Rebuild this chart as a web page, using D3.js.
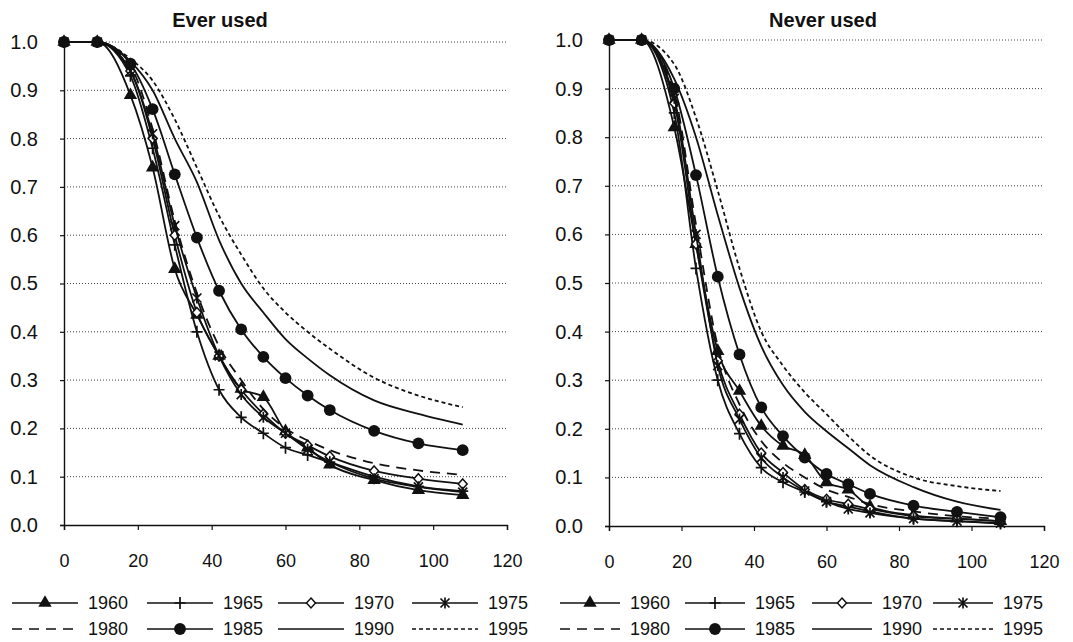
<!DOCTYPE html>
<html>
<head>
<meta charset="utf-8">
<script src="https://cdn.jsdelivr.net/npm/d3@7"></script>
<style>
  body { margin: 0; background: #fff; }
  svg { display: block; font-family: Arial, "Liberation Sans", sans-serif; }
</style>
</head>
<body>
<div id="chart"></div>
<script>
// months since first birth (x values shared by every series)
const months = [0, 9, 18, 24, 30, 36, 42, 48, 54, 60, 66, 72, 84, 96, 108];
const cohorts = ["1960", "1965", "1970", "1975", "1980", "1985", "1990", "1995"];
const xTicks = [0, 20, 40, 60, 80, 100, 120];
const yTicks = [0, 0.1, 0.2, 0.3, 0.4, 0.5, 0.6, 0.7, 0.8, 0.9, 1.0];

// "Ever used" panel
const ever1960 = [1, 1, 0.89, 0.74, 0.53, 0.435, 0.35, 0.282, 0.265, 0.194, 0.16, 0.125, 0.093, 0.072, 0.062];
const ever1965 = [1, 1, 0.93, 0.78, 0.58, 0.40, 0.28, 0.223, 0.19, 0.16, 0.145, 0.13, 0.10, 0.08, 0.07];
const ever1970 = [1, 1, 0.94, 0.80, 0.60, 0.44, 0.35, 0.28, 0.23, 0.19, 0.165, 0.142, 0.112, 0.096, 0.085];
const ever1975 = [1, 1, 0.94, 0.81, 0.62, 0.47, 0.35, 0.27, 0.223, 0.19, 0.157, 0.131, 0.096, 0.079, 0.068];
const ever1980 = [1, 1, 0.95, 0.82, 0.63, 0.48, 0.37, 0.30, 0.24, 0.20, 0.175, 0.155, 0.128, 0.113, 0.104];
const ever1985 = [1, 1, 0.955, 0.861, 0.726, 0.595, 0.485, 0.405, 0.348, 0.304, 0.268, 0.238, 0.195, 0.169, 0.155];
const ever1990 = [1, 1, 0.96, 0.90, 0.80, 0.71, 0.59, 0.50, 0.44, 0.385, 0.345, 0.31, 0.258, 0.23, 0.208];
const ever1995 = [1, 1, 0.965, 0.92, 0.84, 0.74, 0.64, 0.56, 0.49, 0.44, 0.40, 0.365, 0.305, 0.268, 0.244];

// "Never used" panel
const never1960 = [1, 1, 0.82, 0.58, 0.36, 0.278, 0.206, 0.165, 0.146, 0.09, 0.075, 0.04, 0.022, 0.015, 0.01];
const never1965 = [1, 1, 0.85, 0.53, 0.30, 0.19, 0.12, 0.09, 0.07, 0.05, 0.04, 0.03, 0.015, 0.01, 0.005];
const never1970 = [1, 1, 0.87, 0.58, 0.34, 0.23, 0.15, 0.11, 0.075, 0.055, 0.045, 0.035, 0.02, 0.015, 0.01];
const never1975 = [1, 1, 0.88, 0.60, 0.33, 0.22, 0.14, 0.10, 0.072, 0.05, 0.035, 0.027, 0.015, 0.01, 0.006];
const never1980 = [1, 1, 0.89, 0.62, 0.37, 0.25, 0.175, 0.13, 0.10, 0.075, 0.06, 0.045, 0.03, 0.02, 0.015];
const never1985 = [1, 1, 0.90, 0.722, 0.513, 0.353, 0.244, 0.185, 0.141, 0.107, 0.086, 0.066, 0.042, 0.029, 0.018];
const never1990 = [1, 1, 0.92, 0.80, 0.64, 0.49, 0.37, 0.29, 0.235, 0.195, 0.16, 0.125, 0.08, 0.05, 0.033];
const never1995 = [1, 1, 0.95, 0.84, 0.69, 0.53, 0.40, 0.33, 0.275, 0.23, 0.185, 0.145, 0.10, 0.082, 0.072];

const everSeries = [ever1960, ever1965, ever1970, ever1975, ever1980, ever1985, ever1990, ever1995];
const neverSeries = [never1960, never1965, never1970, never1975, never1980, never1985, never1990, never1995];

// line / marker look per cohort
const styles = [
  { marker: "triangle", dash: null },
  { marker: "plus", dash: null },
  { marker: "diamond", dash: null },
  { marker: "star", dash: null },
  { marker: null, dash: "10,7" },
  { marker: "circle", dash: null },
  { marker: null, dash: null },
  { marker: null, dash: "4,3" }
];

const width = 1073, height = 642;
const svg = d3.select("#chart").append("svg").attr("width", width).attr("height", height);

function markerPath(type) {
  if (type === "triangle") return d3.symbol(d3.symbolTriangle, 78)();
  if (type === "circle") return d3.symbol(d3.symbolCircle, 110)();
  if (type === "diamond") return "M0,-5L4.5,0L0,5L-4.5,0Z";
  if (type === "plus") return "M-5.5,0H5.5M0,-6V6";
  if (type === "star") return "M-4.5,-4.5L4.5,4.5M-4.5,4.5L4.5,-4.5M0,-5.5V5.5";
  return null;
}

function drawMarker(g, type, x, y) {
  const p = g.append("path").attr("d", markerPath(type)).attr("transform", `translate(${x},${y})`);
  if (type === "diamond") p.attr("fill", "#fff").attr("stroke", "#111").attr("stroke-width", 1.5);
  else if (type === "plus" || type === "star") p.attr("fill", "none").attr("stroke", "#111").attr("stroke-width", 1.7);
  else p.attr("fill", "#111");
}

function drawPanel(opts) {
  const x = d3.scaleLinear().domain([0, 120]).range([opts.x0, opts.x1]);
  const y = d3.scaleLinear().domain([0, 1]).range([opts.y0, opts.y1]);
  const g = svg.append("g");

  // dotted gridlines
  g.append("g")
    .selectAll("line")
    .data(yTicks.slice(1))
    .join("line")
    .attr("x1", x(0))
    .attr("x2", x(120))
    .attr("y1", d => y(d))
    .attr("y2", d => y(d))
    .attr("stroke", "#444")
    .attr("stroke-width", 1)
    .attr("stroke-dasharray", "1,2");

  // axes
  const xAxis = g.append("g").attr("transform", `translate(0,${y(0)})`)
    .call(d3.axisBottom(x).tickValues(xTicks).tickSize(5).tickPadding(24).tickFormat(d3.format("d")));
  const yAxis = g.append("g").attr("transform", `translate(${x(0)},0)`)
    .call(d3.axisLeft(y).tickValues(yTicks).tickSize(4).tickPadding(22).tickFormat(d3.format(".1f")));
  [xAxis, yAxis].forEach(a => {
    a.select(".domain").attr("stroke", "#111").attr("stroke-width", 1.4);
    a.selectAll(".tick line").attr("stroke", "#111").attr("stroke-width", 1.2);
    a.selectAll("text").attr("fill", "#111").attr("font-family", "Arial, 'Liberation Sans', sans-serif");
  });
  xAxis.selectAll("text").attr("font-size", 18);
  yAxis.selectAll("text").attr("font-size", 20);

  // title
  g.append("text")
    .attr("x", opts.titleX)
    .attr("y", 27)
    .attr("text-anchor", "middle")
    .attr("font-size", 20)
    .attr("font-weight", "bold")
    .attr("fill", "#111")
    .text(opts.title);

  const line = d3.line().x((d, i) => x(months[i])).y(d => y(d)).curve(d3.curveMonotoneX);

  opts.series.forEach((vals, k) => {
    const st = styles[k];
    g.append("path")
      .attr("d", line(vals))
      .attr("fill", "none")
      .attr("stroke", "#111")
      .attr("stroke-width", 1.8)
      .attr("stroke-dasharray", st.dash);
    if (st.marker) {
      const mg = g.append("g");
      vals.forEach((v, i) => drawMarker(mg, st.marker, x(months[i]), y(v)));
    }
  });

  // legend, two rows of four
  const leg = svg.append("g");
  cohorts.forEach((c, k) => {
    const st = styles[k];
    const lx = opts.legX[k % 4];
    const ly = opts.legY[Math.floor(k / 4)];
    leg.append("line")
      .attr("x1", lx).attr("x2", lx + opts.legLen)
      .attr("y1", ly).attr("y2", ly)
      .attr("stroke", "#111").attr("stroke-width", 1.5)
      .attr("stroke-dasharray", st.dash);
    if (st.marker) drawMarker(leg, st.marker, lx + opts.legLen / 2, ly);
    leg.append("text")
      .attr("x", lx + opts.legLen + 10)
      .attr("y", ly)
      .attr("dy", "0.35em")
      .attr("font-size", 18)
      .attr("fill", "#111")
      .text(c);
  });
}

drawPanel({
  title: "Ever used", titleX: 220,
  x0: 64, x1: 507, y0: 525, y1: 42,
  series: everSeries,
  legX: [12, 147, 278, 412], legY: [603, 629], legLen: 66
});

drawPanel({
  title: "Never used", titleX: 823,
  x0: 609, x1: 1044, y0: 526, y1: 40,
  series: neverSeries,
  legX: [560, 685, 812, 933], legY: [603, 629], legLen: 60
});
</script>
</body>
</html>
